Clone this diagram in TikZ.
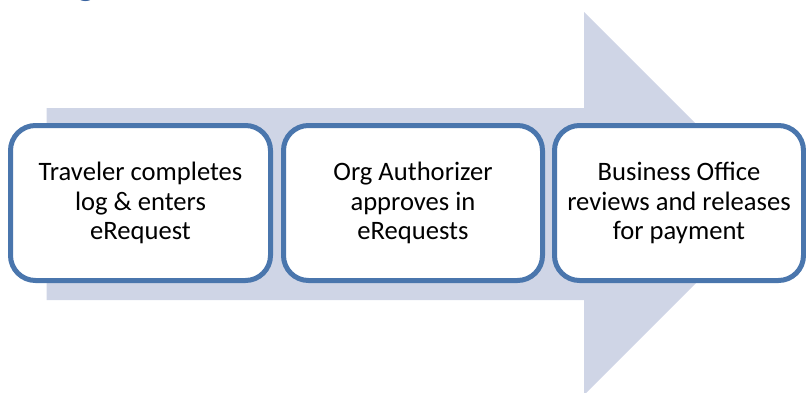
\documentclass[tikz,border=0pt]{standalone}
\usepackage{fontspec}
\setmainfont{Carlito}
\definecolor{arrowfill}{HTML}{CFD5E6}
\definecolor{boxline}{HTML}{4A76AD}
\definecolor{headblue}{HTML}{3A64A0}
\begin{document}
\begin{tikzpicture}[x=1pt,y=-1pt,
  stepbox/.style={draw=boxline, line width=5pt, fill=white, rounded corners=25pt,
    minimum height=155pt, inner sep=0pt, align=center,
    font=\fontsize{26.6}{29.5}\selectfont}]
\useasboundingbox (0,0) rectangle (806,392);
\begin{scope}
\clip (0,0) rectangle (806,392);
\node[anchor=base, text=headblue, font=\fontsize{36}{40}\bfseries\selectfont] (head) at (86,-4.5) {g};
\fill[arrowfill] (46.7,108) -- (584,108) -- (584,12) -- (775.5,203.5) -- (584,395)
  -- (584,300) -- (46.7,300) -- cycle;
\node[stepbox, minimum width=260pt] (s1) at (140.5,203) {Traveler completes\\log \& enters\\eRequest};
\node[stepbox, minimum width=259pt] (s2) at (413,203) {Org Authorizer\\approves in\\eRequests};
\node[stepbox, minimum width=249pt] (s3) at (679,203) {Business Office\\reviews and releases\\for payment};
\end{scope}
\end{tikzpicture}
\end{document}
